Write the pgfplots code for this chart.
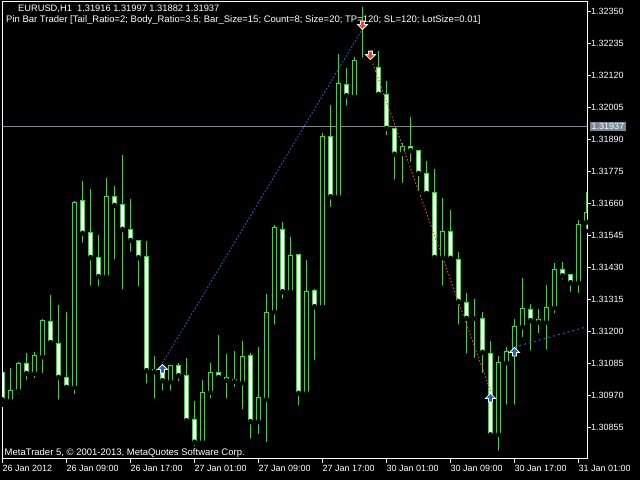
\documentclass[border=0pt]{standalone}
\usepackage{fontspec}
\setmainfont{Liberation Sans}
\usepackage{pgfplots}
\usepackage{pgfplotstable}
\pgfplotsset{compat=1.18}

\definecolor{candle}{RGB}{0,255,0}
\definecolor{bidgray}{RGB}{119,136,153}
\definecolor{tradeblue}{RGB}{30,100,200}
\definecolor{tradered}{RGB}{235,70,40}

\newcommand\mtfont{\fontsize{9bp}{10bp}\selectfont}
\newcommand\txtfont{\fontsize{9.5bp}{11bp}\selectfont}

% deal arrows
\pgfdeclareplotmark{buyarrow}{%
  \pgfpathmoveto{\pgfqpoint{0bp}{4.5bp}}%
  \pgfpathlineto{\pgfqpoint{5bp}{-0.5bp}}%
  \pgfpathlineto{\pgfqpoint{2bp}{-0.5bp}}%
  \pgfpathlineto{\pgfqpoint{2bp}{-4bp}}%
  \pgfpathlineto{\pgfqpoint{-2bp}{-4bp}}%
  \pgfpathlineto{\pgfqpoint{-2bp}{-0.5bp}}%
  \pgfpathlineto{\pgfqpoint{-5bp}{-0.5bp}}%
  \pgfpathclose
  \pgfusepathqfillstroke}
\pgfdeclareplotmark{sellarrow}{%
  \pgfpathmoveto{\pgfqpoint{0bp}{-4.5bp}}%
  \pgfpathlineto{\pgfqpoint{5bp}{0.5bp}}%
  \pgfpathlineto{\pgfqpoint{2bp}{0.5bp}}%
  \pgfpathlineto{\pgfqpoint{2bp}{4bp}}%
  \pgfpathlineto{\pgfqpoint{-2bp}{4bp}}%
  \pgfpathlineto{\pgfqpoint{-2bp}{0.5bp}}%
  \pgfpathlineto{\pgfqpoint{-5bp}{0.5bp}}%
  \pgfpathclose
  \pgfusepathqfillstroke}

% EURUSD H1, prices in points above 1.30000 (1937 = 1.31937)
\pgfplotstableread{
i O H L C
0 1055 1080 937 955
1 952 1071 937 990
2 988 1092 969 1084
3 1084 1125 1020 1050
4 1050 1128 1026 1113
5 1110 1244 1044 1242
6 1238 1332 1160 1161
7 1158 1296 948 1036
8 1036 1272 1000 1000
9 1000 1670 969 1665
10 1670 1742 1512 1554
11 1557 1713 1358 1467
12 1467 1548 1355 1398
13 1398 1752 1388 1687
14 1687 1724 1452 1654
15 1658 1835 1344 1568
16 1568 1677 1480 1528
17 1528 1530 1355 1466
18 1472 1526 1006 1060
19 1056 1113 952 1065
20 1060 1075 981 1024
21 1020 1080 981 1077
22 1077 1089 1015 1042
23 1044 1105 880 880
24 885 951 781 803
25 803 1026 802 982
26 982 1086 952 1054
27 1054 1188 1020 1036
28 1036 1120 952 1025
29 1029 1131 994 1021
30 1017 1167 913 1112
31 1115 1124 808 877
32 877 1145 825 964
33 957 1336 796 1270
34 1272 1582 1218 1575
35 1568 1594 1311 1344
36 1344 1539 1333 1475
37 1478 1480 927 979
38 979 1458 963 1345
39 1349 1353 1089 1290
40 1290 1913 1289 1903
41 1902 2015 1641 1685
42 1685 2198 1673 2093
43 2089 2147 2005 2048
44 2045 2186 2044 2175
45 2179 2367 2161 2179
46 2179 2205 2169 2191
47 2150 2209 2047 2053
48 2054 2101 1899 1931
49 1931 1933 1739 1838
50 1841 1877 1727 1866
51 1866 1971 1803 1851
52 1851 1852 1698 1769
53 1769 1812 1697 1697
54 1701 1784 1452 1467
55 1467 1679 1358 1561
56 1561 1637 1452 1464
57 1460 1485 1218 1308
58 1306 1338 1114 1248
59 1248 1318 1098 1248
60 1248 1270 1044 1126
61 1122 1167 823 829
62 831 1113 765 1089
63 1089 1144 930 1128
64 1128 1246 930 1218
65 1218 1392 1173 1284
66 1281 1300 1125 1240
67 1245 1281 1186 1234
68 1234 1368 1128 1288
69 1286 1446 1258 1422
70 1422 1449 1380 1401
71 1407 1408 1336 1376
72 1376 1601 1332 1586
73 1594 1702 1562 1630
}\candles

\begin{document}
\begin{tikzpicture}
\useasboundingbox (0,0) rectangle (640bp,480bp);
\fill[black] (0,0) rectangle (640bp,480bp);

\begin{axis}[
    at={(2bp,21bp)}, anchor=south west,
    scale only axis, width=585bp, height=457bp,
    xmin=-0.0625, xmax=73.0625,
    ymin=742.5, ymax=2384.9,
    clip mode=global, axis on top,
    axis line style={white, line width=1bp},
    tick style={white, line width=1bp},
    tick align=outside, major tick length=4bp,
    xtick pos=lower, ytick pos=right,
    xtick={0,8,...,72},
    xticklabels={26 Jan 2012,26 Jan 09:00,26 Jan 17:00,27 Jan 01:00,27 Jan 09:00,
      27 Jan 17:00,30 Jan 01:00,30 Jan 09:00,30 Jan 17:00,31 Jan 01:00},
    ytick={855,970,1085,1200,1315,1430,1545,1660,1775,1890,2005,2120,2235,2350},
    yticklabels={1.30855,1.30970,1.31085,1.31200,1.31315,1.31430,1.31545,
      1.31660,1.31775,1.31890,1.32005,1.32120,1.32235,1.32350},
    xticklabel style={anchor=north west, font=\mtfont, text=white, inner sep=0pt, yshift=-2.5bp},
    yticklabel style={anchor=west, font=\mtfont, text=white, inner sep=0pt},
    extra y ticks={1937}, extra y tick labels={1.31937},
    extra y tick style={major tick length=0pt,
      yticklabel style={fill=bidgray, inner sep=1.5bp, xshift=3bp}},
  ]
  % bid line
  \addplot[bidgray, line width=1bp, forget plot] coordinates {(-1,1937) (75,1937)};

  % wicks
  \addplot[only marks, mark=none, forget plot,
    error bars/.cd, y dir=plus, y explicit, error mark=none,
    error bar style={draw=candle, line width=1bp}]
    table[x=i, y=L, y error expr={\thisrow{H}-\thisrow{L}}] {\candles};
  % body outline
  \addplot[only marks, mark=none, forget plot,
    error bars/.cd, y dir=plus, y explicit, error mark=none,
    error bar style={draw=candle, line width=5bp}]
    table[x=i, y expr={min(\thisrow{O},\thisrow{C})-1.8},
      y error expr={abs(\thisrow{C}-\thisrow{O})+3.6}] {\candles};
  % bull bodies (hollow)
  \addplot[only marks, mark=none, forget plot,
    error bars/.cd, y dir=plus, y explicit, error mark=none,
    error bar style={draw=black, line width=3bp}]
    table[x=i, y expr={(\thisrow{C}-\thisrow{O}>3.6) ? \thisrow{O}+1.8 : nan},
      y error expr={\thisrow{C}-\thisrow{O}-3.6}] {\candles};
  % bear bodies (filled)
  \addplot[only marks, mark=none, forget plot,
    error bars/.cd, y dir=plus, y explicit, error mark=none,
    error bar style={draw=white, line width=3bp}]
    table[x=i, y expr={(\thisrow{O}-\thisrow{C}>3.6) ? \thisrow{C}+1.8 : nan},
      y error expr={\thisrow{O}-\thisrow{C}-3.6}] {\candles};

  % deals
  \addplot[tradeblue, line width=1bp, dash pattern=on 1.5bp off 2bp] coordinates {(20,1088) (45,2288)};
  \addplot[tradered, line width=1bp, dash pattern=on 1.5bp off 2bp] coordinates {(46,2187) (61,987)};
  \addplot[tradeblue, line width=1bp, dash pattern=on 2bp off 3bp] coordinates {(64,1145) (73.1,1218)};
  \addplot[only marks, mark=buyarrow, mark options={fill=tradeblue, draw=white, line width=0.8bp}]
    coordinates {(20,1066) (61,962) (64,1127)};
  \addplot[only marks, mark=sellarrow, mark options={fill=tradered, draw=white, line width=0.8bp}]
    coordinates {(45,2302) (46,2194)};
\end{axis}

\node[anchor=base west, inner sep=0pt, text=white, font=\fontsize{9.3bp}{11bp}\selectfont] at (18bp,468.7bp)
  {EURUSD,H1\ \ 1.31916 1.31997 1.31882 1.31937};
\node[anchor=base west, inner sep=0pt, text=white, font=\txtfont] at (6bp,457.3bp)
  {Pin Bar Trader [Tail\_Ratio=2; Body\_Ratio=3.5; Bar\_Size=15; Count=8; Size=20; TP=120; SL=120; LotSize=0.01]};
\node[anchor=base west, inner sep=0pt, text=white, font=\txtfont] at (4.5bp,25bp)
  {MetaTrader 5, © 2001-2013, MetaQuotes Software Corp.};
\end{tikzpicture}
\end{document}
